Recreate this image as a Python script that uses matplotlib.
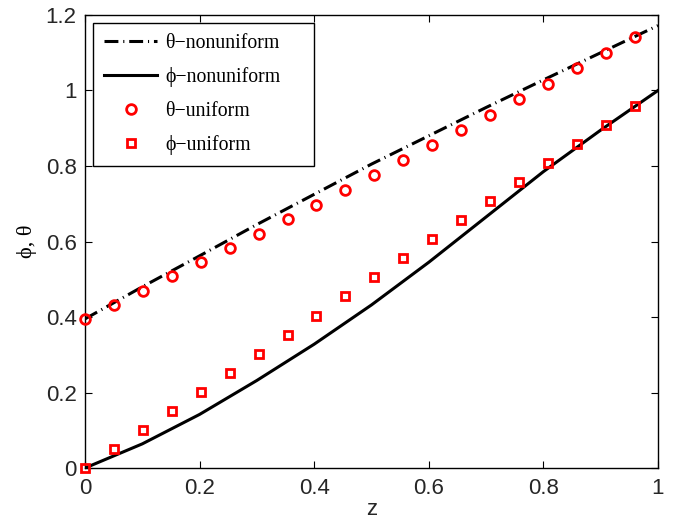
import numpy as np
import matplotlib
matplotlib.use("Agg")
import matplotlib.pyplot as plt

# nonuniform solution (lines)
z_line = [0.0, 0.1, 0.2, 0.3, 0.4, 0.5, 0.6, 0.7, 0.8, 0.9, 1.0]
theta_nonuni = [0.395, 0.48, 0.562, 0.645, 0.725, 0.805, 0.88, 0.955, 1.028, 1.10, 1.172]
phi_nonuni = [0.0, 0.064, 0.142, 0.232, 0.328, 0.432, 0.545, 0.665, 0.785, 0.895, 1.0]

# uniform solution (markers)
z_pts = [0.0, 0.0505, 0.101, 0.1515, 0.202, 0.2525, 0.303, 0.3535, 0.404, 0.4545,
         0.505, 0.5556, 0.6061, 0.6566, 0.7071, 0.7576, 0.8081, 0.8586, 0.9091, 0.9596]
theta_uni = [0.395, 0.433, 0.47, 0.508, 0.545, 0.583, 0.621, 0.66, 0.698, 0.737,
             0.777, 0.815, 0.856, 0.895, 0.935, 0.977, 1.017, 1.059, 1.10, 1.143]
phi_uni = [0.0, 0.0505, 0.101, 0.1515, 0.202, 0.2525, 0.303, 0.3535, 0.404, 0.4545,
           0.505, 0.5556, 0.6061, 0.6566, 0.7071, 0.7576, 0.8081, 0.8586, 0.9091, 0.9596]

yticks = [0, 0.2, 0.4, 0.6, 0.8, 1.0, 1.2]
ytick_labels = ['0', '0.2', '0.4', '0.6', '0.8', '1', '1.2']
xticks = [0, 0.2, 0.4, 0.6, 0.8, 1.0]
xtick_labels = ['0', '0.2', '0.4', '0.6', '0.8', '1']

plt.rcParams['font.family'] = ['Liberation Sans', 'DejaVu Sans']
plt.rcParams['lines.scale_dashes'] = False

fig = plt.figure(figsize=(6.8, 5.22), dpi=100)
ax = fig.add_axes([0.125, 0.1034, 0.8426, 0.8679])

ax.plot(z_line, theta_nonuni, color='black', lw=2.2, dashes=(10, 3.5, 0.8, 3.5),
        label='θ−nonuniform')
ax.plot(z_line, phi_nonuni, color='black', lw=2.2, label='ϕ−nonuniform')
ax.plot(z_pts, theta_uni, linestyle='none', marker='o', ms=7, mew=2,
        mec='red', mfc='none', label='θ−uniform', clip_on=False, zorder=3)
ax.plot(z_pts, phi_uni, linestyle='none', marker='s', ms=5.5, mew=2,
        mec='red', mfc='none', label='ϕ−uniform', clip_on=False, zorder=3)

ax.set_xlim(0, 1)
ax.set_ylim(0, 1.2)
ax.set_xticks(xticks)
ax.set_xticklabels(xtick_labels)
ax.set_yticks(yticks)
ax.set_yticklabels(ytick_labels)
ax.tick_params(direction='in', top=True, right=True, labelsize=16, length=5,
               labelcolor='#262626')
ax.tick_params(axis='x', pad=7)
ax.tick_params(axis='y', pad=6)
for s in ax.spines.values():
    s.set_linewidth(1.0)

ax.set_xlabel('z', fontsize=16, labelpad=0.5, color='#262626')
ax.set_ylabel('ϕ, θ', fontsize=16, labelpad=6,
              family=['Liberation Serif', 'DejaVu Serif'])

leg = ax.legend(loc='upper left', bbox_to_anchor=(0.014, 0.6, 0.3857, 0.3823),
                mode='expand', borderaxespad=0,
                fancybox=False, edgecolor='black', framealpha=1,
                prop={'family': 'Liberation Serif', 'size': 14.3},
                handlelength=2.68, labelspacing=0.72, borderpad=0.55,
                handletextpad=0.41)
leg.get_frame().set_linewidth(1.0)

fig.savefig('out.png', dpi=100)
